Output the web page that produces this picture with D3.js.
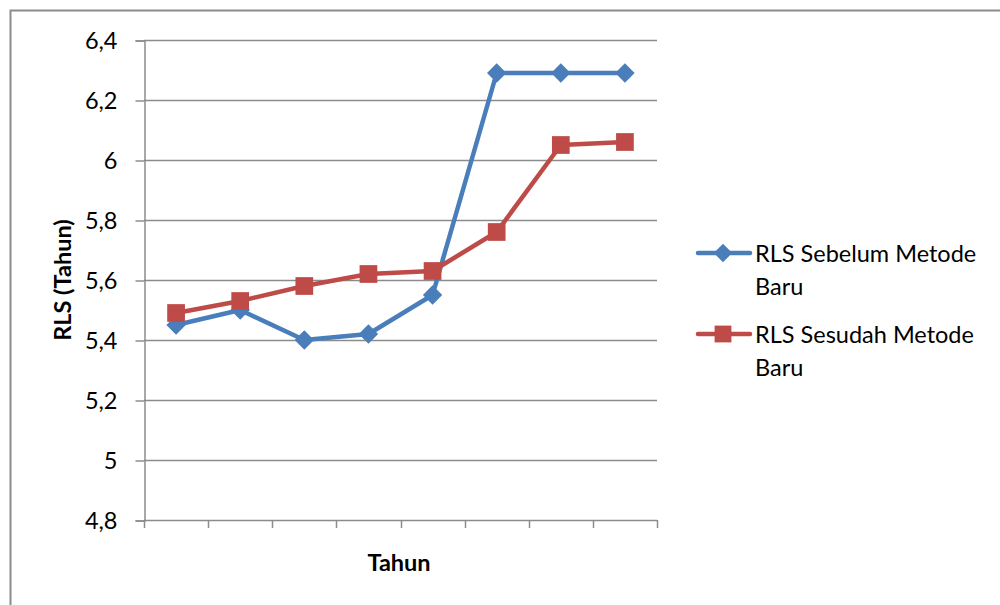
<!DOCTYPE html>
<html>
<head>
<meta charset="utf-8">
<script src="https://cdn.jsdelivr.net/npm/d3@7"></script>
<style>
  html, body { margin: 0; padding: 0; background: #fff; }
  svg { display: block; font-family: Lato, "Open Sans", sans-serif; }
</style>
</head>
<body>
<svg id="chart" width="1000" height="605"></svg>
<script>
// Eight yearly categories (unlabelled on the axis)
const categories = [1, 2, 3, 4, 5, 6, 7, 8];
const sebelum = [5.45, 5.50, 5.40, 5.42, 5.55, 6.29, 6.29, 6.29];
const sesudah = [5.49, 5.53, 5.58, 5.62, 5.63, 5.76, 6.05, 6.06];
const yTicks = [4.8, 5.0, 5.2, 5.4, 5.6, 5.8, 6.0, 6.2, 6.4];
const seriesNames = ["RLS Sebelum Metode Baru", "RLS Sesudah Metode Baru"];

const svg = d3.select("#chart");
const plot = { left: 144, right: 657, top: 40, bottom: 520 };
const FS = 23.5;

// outer chart frame
svg.append("rect")
  .attr("x", 10.5).attr("y", 10.5)
  .attr("width", 1100).attr("height", 700)
  .attr("fill", "none").attr("stroke", "#8c8c8c").attr("stroke-width", 2);

const x = d3.scaleBand().domain(categories).range([plot.left, plot.right]);
const y = d3.scaleLinear().domain([4.8, 6.4]).range([plot.bottom, plot.top]);

// horizontal gridlines
svg.append("g").selectAll("line").data(yTicks.slice(1)).join("line")
  .attr("x1", plot.left).attr("x2", plot.right)
  .attr("y1", d => Math.round(y(d)) + 0.5).attr("y2", d => Math.round(y(d)) + 0.5)
  .attr("stroke", "#8c8c8c").attr("stroke-width", 1.3);

// y axis
const yAxis = d3.axisLeft(y).tickValues(yTicks).tickSize(9).tickPadding(18)
  .tickFormat(d => d3.format(".1f")(d).replace(".", ",").replace(/,0$/, ""));
const gy = svg.append("g").attr("transform", `translate(${plot.left + 0.5},0.5)`).call(yAxis);
gy.select(".domain").attr("stroke", "#8c8c8c").attr("stroke-width", 1.5);
gy.selectAll(".tick line").attr("stroke", "#8c8c8c").attr("stroke-width", 1.5);
gy.selectAll(".tick text").attr("font-size", FS).attr("fill", "#000")
  .attr("font-family", "Lato, sans-serif");

// x axis: category boundary ticks, no labels
const xb = categories.map(c => x(c)).concat([plot.right]);
svg.append("line")
  .attr("x1", plot.left).attr("x2", plot.right)
  .attr("y1", plot.bottom + 0.5).attr("y2", plot.bottom + 0.5)
  .attr("stroke", "#8c8c8c").attr("stroke-width", 1.5);
svg.append("g").selectAll("line").data(xb).join("line")
  .attr("x1", d => Math.round(d) + 0.5).attr("x2", d => Math.round(d) + 0.5)
  .attr("y1", plot.bottom).attr("y2", plot.bottom + 8)
  .attr("stroke", "#8c8c8c").attr("stroke-width", 1.5);

// axis titles
svg.append("text").attr("x", 399).attr("y", 571)
  .attr("text-anchor", "middle").attr("font-weight", "bold").attr("font-size", FS)
  .text("Tahun");
svg.append("text")
  .attr("transform", `translate(71,280) rotate(-90)`)
  .attr("text-anchor", "middle").attr("font-weight", "bold").attr("font-size", FS)
  .text("RLS (Tahun)");

const cx = d => x(d) + x.bandwidth() / 2;
const series = [
  { name: seriesNames[0], values: sebelum, color: "#4a7ebb", marker: d3.symbolDiamond2, size: 240 },
  { name: seriesNames[1], values: sesudah, color: "#be4b48", marker: d3.symbolSquare2, size: 400 }
];

const line = d3.line().x((d, i) => cx(categories[i])).y(d => y(d));

series.forEach(s => {
  svg.append("path").datum(s.values)
    .attr("d", line).attr("fill", "none")
    .attr("stroke", s.color).attr("stroke-width", 4.5).attr("stroke-linejoin", "round");
});
series.forEach(s => {
  svg.append("g").selectAll("path").data(s.values).join("path")
    .attr("transform", (d, i) => `translate(${cx(categories[i])},${y(d)})`)
    .attr("d", d3.symbol().type(s.marker).size(s.size))
    .attr("fill", s.color);
});

// legend
const legend = svg.append("g");
const legendRows = [253, 334];
series.forEach((s, i) => {
  const ly = legendRows[i];
  legend.append("line").attr("x1", 698).attr("x2", 750).attr("y1", ly).attr("y2", ly)
    .attr("stroke", s.color).attr("stroke-width", 4.5).attr("stroke-linecap", "round");
  legend.append("path").attr("transform", `translate(723,${ly})`)
    .attr("d", d3.symbol().type(s.marker).size(s.size * 0.9)).attr("fill", s.color);
  const words = s.name.split(" ");
  const t = legend.append("text").attr("font-size", FS).attr("fill", "#000");
  t.append("tspan").attr("x", 755).attr("y", ly + 9).text(words.slice(0, 3).join(" "));
  t.append("tspan").attr("x", 755).attr("y", ly + 42).text(words.slice(3).join(" "));
});
</script>
</body>
</html>
